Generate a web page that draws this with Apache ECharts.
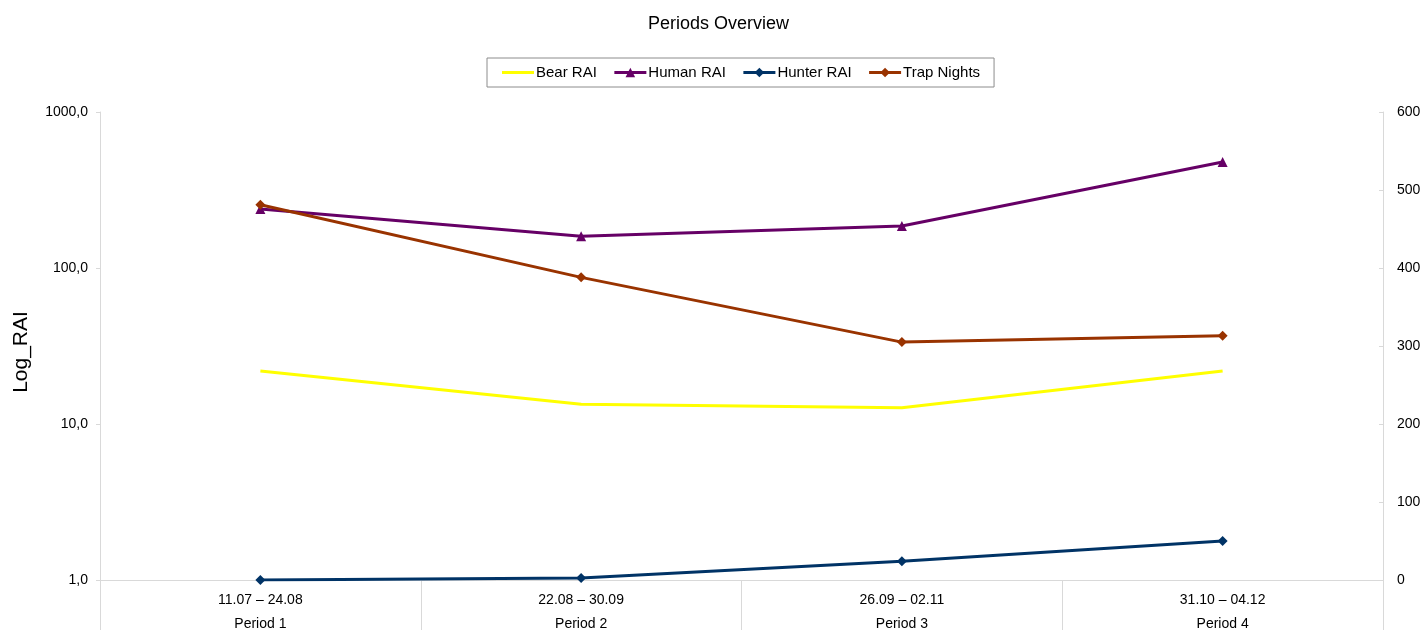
<!DOCTYPE html>
<html>
<head>
<meta charset="utf-8">
<script src="https://cdn.jsdelivr.net/npm/echarts@6/dist/echarts.min.js"></script>
<style>
  html, body { margin: 0; padding: 0; background: #ffffff; }
  #chart { width: 1421px; height: 630px; }
</style>
</head>
<body>
<div id="chart"></div>
<script>
// Sampling periods and their date ranges
const periods = ['Period 1', 'Period 2', 'Period 3', 'Period 4'];
const dateRanges = ['11.07 – 24.08', '22.08 – 30.09', '26.09 – 02.11', '31.10 – 04.12'];

// Relative abundance indices (log scale, left axis)
const bearRAI = [21.9, 13.4, 12.7, 21.9];
const humanRAI = [239, 160, 186, 478];
const hunterRAI = [1.0, 1.03, 1.32, 1.78];

// Trap nights per period (right axis)
const trapNights = [481, 388, 305, 313];

// Left axis tick values
const logTicks = [1, 10, 100, 1000];

const categories = periods.map((p, i) => dateRanges[i] + '\n' + p);

const font = 'Liberation Sans, Arial, sans-serif';
const gridLine = '#d9d9d9';

const chart = echarts.init(document.getElementById('chart'), null, { renderer: 'canvas' });

chart.setOption({
  animation: false,
  backgroundColor: '#ffffff',
  title: {
    text: 'Periods Overview',
    left: 643,
    top: 10,
    textStyle: { fontFamily: font, fontSize: 18, fontWeight: 'normal', color: '#000' }
  },
  legend: {
    top: 58,
    left: 487,
    padding: [7, 14, 7, 15],
    borderColor: '#8c8c8c',
    borderWidth: 1,
    itemWidth: 32,
    itemHeight: 12,
    itemGap: 16,
    lineStyle: { width: 3 },
    textStyle: { fontFamily: font, fontSize: 15, color: '#000', padding: [0, 0, 0, -3] },
    data: [
      { name: 'Bear RAI', icon: 'path://M0,0 L32,0 L32,3 L0,3 Z' },
      { name: 'Human RAI' },
      { name: 'Hunter RAI' },
      { name: 'Trap Nights' }
    ]
  },
  grid: { left: 100, right: 38, top: 112, bottom: 50, containLabel: false, outerBoundsMode: 'none' },
  xAxis: {
    type: 'category',
    data: categories,
    boundaryGap: true,
    axisLine: { show: true, lineStyle: { color: gridLine, width: 1 } },
    axisTick: { show: true, interval: 0, length: 50, alignWithLabel: false, lineStyle: { color: gridLine } },
    axisLabel: {
      interval: 0,
      margin: 8,
      lineHeight: 24,
      fontFamily: font,
      fontSize: 14,
      color: '#000'
    },
    splitLine: { show: false }
  },
  yAxis: [
    {
      type: 'log',
      logBase: 10,
      min: logTicks[0],
      max: logTicks[logTicks.length - 1],
      name: 'Log_RAI',
      nameLocation: 'middle',
      nameGap: 68,
      nameRotate: 90,
      nameTextStyle: { fontFamily: font, fontSize: 21, color: '#000', padding: [0, 12, 0, 0] },
      axisLine: { show: true, lineStyle: { color: gridLine } },
      axisTick: { show: true, length: 4, lineStyle: { color: gridLine } },
      axisLabel: {
        margin: 12,
        fontFamily: font,
        fontSize: 14,
        color: '#000',
        formatter: v => v.toFixed(1).replace('.', ',')
      },
      splitLine: { show: false }
    },
    {
      type: 'value',
      min: 0,
      max: 600,
      interval: 100,
      position: 'right',
      axisLine: { show: true, lineStyle: { color: gridLine } },
      axisTick: { show: true, inside: true, length: 4, lineStyle: { color: gridLine } },
      axisLabel: { margin: 14, fontFamily: font, fontSize: 14, color: '#000' },
      splitLine: { show: false }
    }
  ],
  series: [
    {
      name: 'Bear RAI',
      type: 'line',
      yAxisIndex: 0,
      data: bearRAI,
      symbol: 'none',
      color: '#ffff00',
      lineStyle: { width: 3, color: '#ffff00' }
    },
    {
      name: 'Human RAI',
      type: 'line',
      yAxisIndex: 0,
      data: humanRAI,
      symbol: 'triangle',
      symbolSize: 10,
      color: '#660066',
      lineStyle: { width: 3, color: '#660066' }
    },
    {
      name: 'Hunter RAI',
      type: 'line',
      yAxisIndex: 0,
      data: hunterRAI,
      symbol: 'diamond',
      symbolSize: 10,
      color: '#003366',
      lineStyle: { width: 3, color: '#003366' }
    },
    {
      name: 'Trap Nights',
      type: 'line',
      yAxisIndex: 1,
      data: trapNights,
      symbol: 'diamond',
      symbolSize: 10,
      color: '#993300',
      lineStyle: { width: 3, color: '#993300' }
    }
  ]
});
</script>
</body>
</html>
